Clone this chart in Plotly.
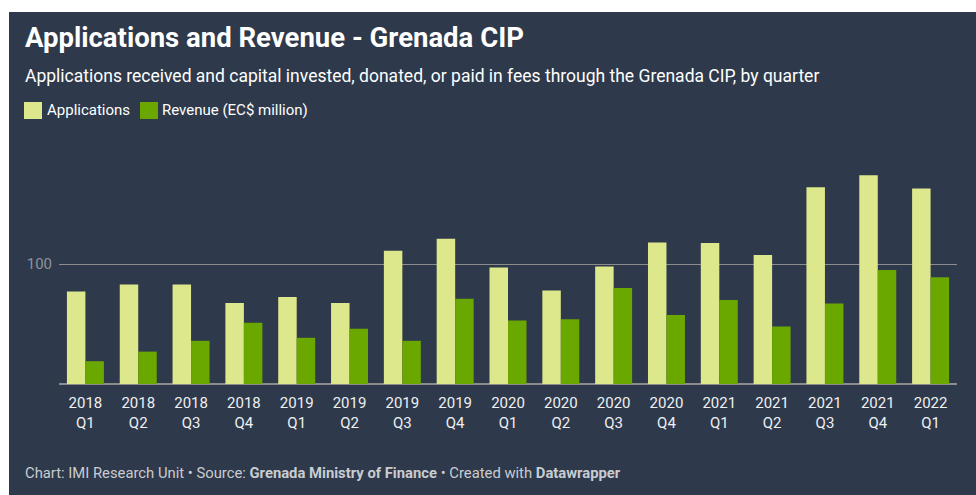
import plotly.graph_objects as go

years = ["2018", "2018", "2018", "2018", "2019", "2019", "2019", "2019",
         "2020", "2020", "2020", "2020", "2021", "2021", "2021", "2021", "2022"]
quarters = ["Q1", "Q2", "Q3", "Q4", "Q1", "Q2", "Q3", "Q4",
            "Q1", "Q2", "Q3", "Q4", "Q1", "Q2", "Q3", "Q4", "Q1"]
applications = [77, 83, 83, 67.5, 72.5, 67.5, 111, 121, 97, 78, 98, 118, 117.5, 107.5, 164, 174, 163]
revenue = [19, 27, 36, 51, 38.5, 46, 36, 71, 53, 54, 80, 57.5, 70, 48, 67, 95, 89]
y_ticks = [100]
y_tick_labels = ["100"]

categories = [f"{y}<br>{q}" for y, q in zip(years, quarters)]

BG = "#2e394b"
LIGHT = "#dde78c"
DARK = "#6aa800"
FONT = "Roboto"

W, H = 976, 495
L, R, T, B = 59, 19, 170, 111
PW, PH = W - L - R, H - T - B


def px(x):
    return (x - L) / PW


def py(y):
    return (H - B - y) / PH


fig = go.Figure()
fig.add_trace(go.Bar(x=categories, y=applications, name="Applications",
                     marker=dict(color=LIGHT, line=dict(width=0))))
fig.add_trace(go.Bar(x=categories, y=revenue, name="Revenue (EC$ million)",
                     marker=dict(color=DARK, line=dict(width=0))))

annotations = [
    dict(text="<b>Applications and Revenue - Grenada CIP</b>", x=px(23), y=py(37),
         font=dict(size=27.5, color="#ffffff", family=FONT)),
    dict(text="Applications received and capital invested, donated, or paid in fees through the Grenada CIP, by quarter",
         x=px(23), y=py(76), font=dict(size=17.5, color="#ffffff", family=FONT)),
    dict(text="Applications", x=px(45), y=py(110), font=dict(size=15, color="#ffffff", family=FONT)),
    dict(text="Revenue (EC$ million)", x=px(160), y=py(110), font=dict(size=15, color="#ffffff", family=FONT)),
    dict(text="Chart: IMI Research Unit • Source: <b>Grenada Ministry of Finance</b> • Created with <b>Datawrapper</b>",
         x=px(23), y=py(473), font=dict(size=14.8, color="#c9ccd1", family=FONT)),
]
for a in annotations:
    a.update(xref="paper", yref="paper", xanchor="left", yanchor="middle", showarrow=False)

shapes = [
    dict(type="rect", xref="paper", yref="paper", x0=px(24), x1=px(42), y0=py(102), y1=py(119),
         fillcolor=LIGHT, line=dict(width=0)),
    dict(type="rect", xref="paper", yref="paper", x0=px(140), x1=px(158), y0=py(102), y1=py(119),
         fillcolor=DARK, line=dict(width=0)),
    # white page margin around the card
    dict(type="rect", xref="paper", yref="paper", x0=px(0), x1=px(9), y0=py(H), y1=py(0),
         fillcolor="#ffffff", line=dict(width=0), layer="above"),
    dict(type="rect", xref="paper", yref="paper", x0=px(0), x1=px(W), y0=py(12), y1=py(0),
         fillcolor="#ffffff", line=dict(width=0), layer="above"),
]

fig.update_layout(
    width=W, height=H,
    margin=dict(l=L, r=R, t=T, b=B, pad=0),
    paper_bgcolor=BG, plot_bgcolor=BG,
    barmode="group", bargap=0.3, bargroupgap=0,
    showlegend=False,
    font=dict(family=FONT),
    annotations=annotations,
    shapes=shapes,
    xaxis=dict(showgrid=False, showline=False, zeroline=False, ticks="", ticklabelstandoff=8,
               tickfont=dict(size=15, color="#eef0f2", family=FONT), fixedrange=True),
    yaxis=dict(range=[0, PH / 1.2], tickvals=y_ticks, ticktext=y_tick_labels,
               showgrid=True, gridcolor="#8c8c8c", gridwidth=1,
               zeroline=True, zerolinecolor="#8c8c8c", zerolinewidth=1.5,
               showline=False, ticks="", ticklabelstandoff=6,
               tickfont=dict(size=15, color="#8f939a", family=FONT), fixedrange=True),
)

fig.write_html("out.html", config={"displayModeBar": False})
